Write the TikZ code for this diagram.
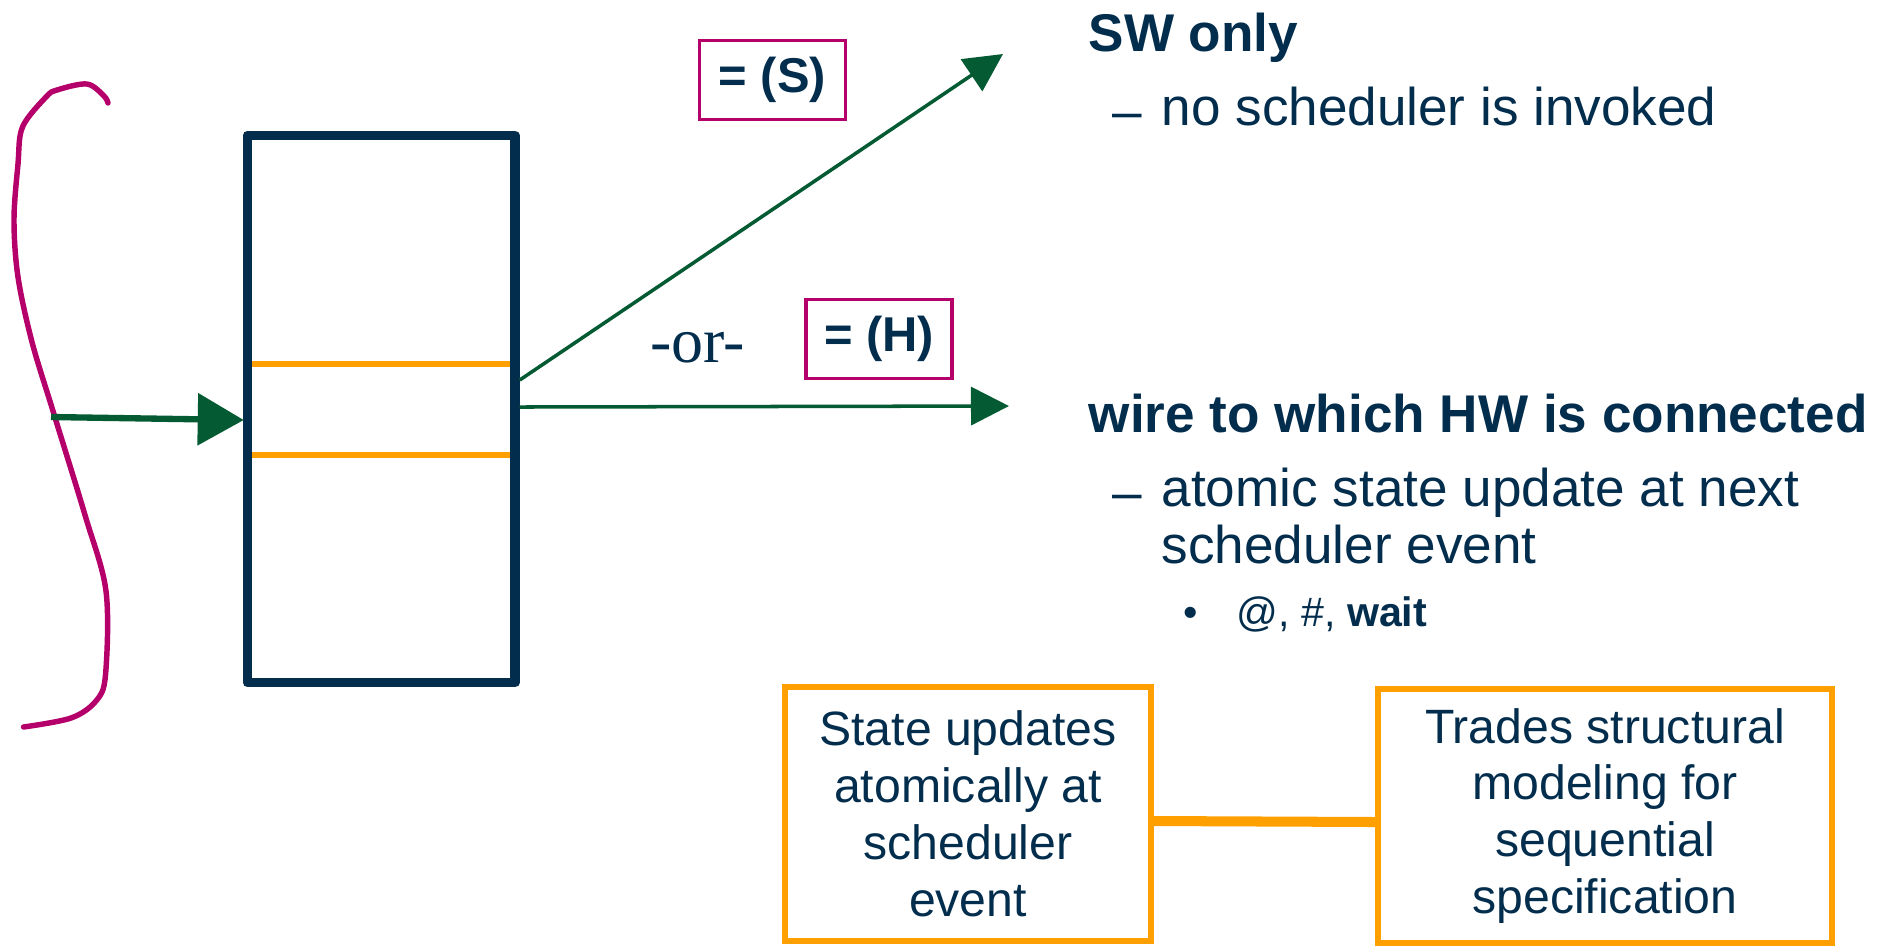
\documentclass[tikz,border=0pt]{standalone}
\usepackage{fontspec}
\setmainfont{Liberation Sans}
\newfontfamily\orfont{Liberation Serif}
\usetikzlibrary{arrows.meta,calc}
\definecolor{navy}{RGB}{3,45,77}
\definecolor{wiregreen}{RGB}{4,90,50}
\definecolor{brace}{RGB}{181,0,107}
\definecolor{amber}{RGB}{255,160,0}
\begin{document}
\begin{tikzpicture}[x=0.01cm,y=-0.01cm,
  body/.style={inner sep=0pt, text=navy, anchor=base west,
    font=\fontsize{15.1pt}{16.2pt}\selectfont},
  small/.style={inner sep=0pt, text=navy, anchor=base west,
    font=\fontsize{11.7pt}{14pt}\selectfont},
  tag/.style={draw=brace, line width=0.9pt, inner sep=0pt, text=navy,
    minimum width=1.46cm, minimum height=0.79cm,
    font=\fontsize{13.9pt}{16pt}\selectfont\bfseries},
  note/.style={draw=amber, line width=1.75pt, inner sep=0pt, text=navy, align=center,
    font=\fontsize{13.7pt}{16.2pt}\selectfont},
  wire/.style={draw=wiregreen, line width=1pt,
    -{Triangle[length=0.38cm,width=0.38cm]}},
]
\useasboundingbox (0,0) rectangle (1890,947);

% register block with its middle slot
\node[draw=navy, line width=2.65pt, line join=round, inner sep=0pt,
      minimum width=2.675cm, minimum height=5.47cm] (reg) at (381.25,409) {};
\draw[amber, line width=1.5pt] (252,364) -- (510,364);
\draw[amber, line width=1.5pt] (252,455) -- (510,455);

% hand-drawn brace on the left
\draw[brace, line width=1.55pt, line cap=round, line join=round]
  plot[smooth, tension=0.55] coordinates {
    (108,103) (104,96) (87,84) (57,90) (46,97) (22.5,127) (18,164) (14,220)
    (18,277) (32,342) (53,411) (85,515) (106,591) (105.5,675) (96,701)
    (71,718) (23.5,727)};

% input arrow into the register
\coordinate (src) at (51,417);
\draw[wiregreen, line width=1.8pt, -{Triangle[length=0.46cm,width=0.51cm]}]
  (src) -- ($(reg.west)+(1,11)$);

% two output choices
\coordinate (swEnd) at (1003,54);
\coordinate (hwEnd) at (1009,406);
\draw[wire] ($(reg.east)+(0,-29)$) -- (swEnd);
\draw[wire] ($(reg.east)+(0,-2)$) -- (hwEnd);

\node[tag] (tagS) at (772.5,80) {= (S)};
\node[tag] (tagH) at (879,339) {= (H)};
\node[inner sep=0pt, text=navy, anchor=base, font=\orfont\fontsize{18.2pt}{21pt}\selectfont]
  (orlbl) at (697.5,362) {-or-};

% explanatory text
\node[body, font=\fontsize{15.1pt}{16.2pt}\selectfont\bfseries] (sw) at (1088,51) {SW only};
\node[body] (d1) at (1112,129) {–};
\node[body] (sw1) at (1161,125) {no scheduler is invoked};
\node[body, font=\fontsize{15.1pt}{16.2pt}\selectfont\bfseries] (hw) at (1088,432)
  {wire to which HW is connected};
\node[body] (d2) at (1112,510) {–};
\node[body] (hw1) at (1161,506) {atomic state update at next};
\node[body] (hw2) at (1161,563) {scheduler event};
\node[small] (b1) at (1183,626) {•};
\node[small] (hw3) at (1236,626) {@, \#, \textbf{wait}};

% summary boxes
\node[note, minimum width=3.66cm, minimum height=2.54cm] (state) at (968,814)
  {State updates\\atomically at\\scheduler\\event};
\node[note, minimum width=4.54cm, minimum height=2.54cm] (trades) at (1605,816)
  {Trades structural\\modeling for\\sequential\\specification};
\draw[amber, line width=2.85pt, line cap=round] ($(state.east)+(0,7)$) -- ($(trades.west)+(0,6)$);
\end{tikzpicture}
\end{document}
